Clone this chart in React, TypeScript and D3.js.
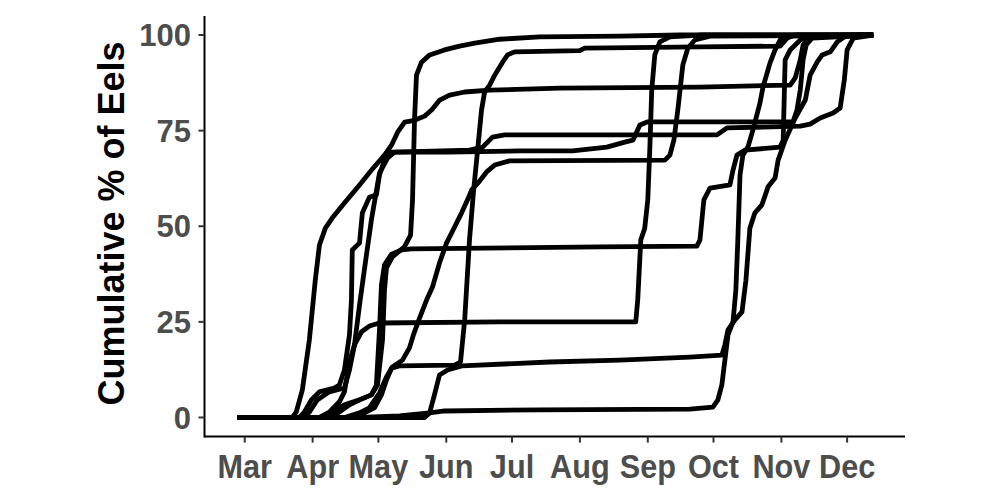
import React from "react";
import * as d3 from "d3";

// Each series: [day-of-year (2015), cumulative %]
const eelEarly = [[56.6,0],[81.7,0],[83.5,1.4],[86.3,7.2],[89.5,20.3],[92.2,35.9],[94.1,45.1],[96.8,49.5],[100.0,52.2],[105.5,56.1],[112.4,60.8],[117.9,64.7],[123.8,68.6],[127.0,71.2],[129.8,74.6],[133.0,77.2],[137.5,77.7],[142.1,78.8],[145.3,80.4],[149.0,83.0],[153.5,84.3],[160.4,85.1],[171.8,85.6],[203.8,86.1],[267.8,86.4],[309.0,86.9],[311.3,88.8],[313.6,93.5],[314.9,97.4],[318.1,99.5],[346.9,100]];
const eelMayJump = [[56.6,0],[98.6,0],[103.2,1.4],[107.8,3.3],[112.4,4.6],[117.8,5.9],[120.6,8.5],[122.9,20.3],[123.8,33.3],[124.7,39.1],[127.4,42.0],[132.9,44.6],[135.7,47.7],[136.6,56.9],[137.5,77.8],[138.4,89.5],[140.7,92.9],[144.4,94.8],[151.2,96.1],[158.1,97.1],[165.0,97.9],[176.4,98.9],[194.6,99.5],[231.2,99.7],[258.7,100],[346.9,100]];
const eel44 = [[56.6,0],[96.3,0],[100.9,2.0],[105.5,3.3],[112.4,4.6],[117.8,5.9],[120.1,8.5],[121.5,22.9],[122.4,34.6],[123.8,39.9],[127.0,42.7],[131.6,43.8],[136.1,44.1],[222.1,44.6],[266.4,44.8],[267.8,46.4],[269.6,56.9],[272.4,60.0],[281.5,60.8],[282.9,64.7],[284.7,68.6],[288.4,69.9],[304.4,70.7],[305.8,72.5],[306.7,93.5],[309.0,96.1],[313.6,98.7],[318.1,99.7],[346.9,100]];
const eel25 = [[56.6,0],[94.1,0],[98.6,1.4],[103.2,4.1],[105.5,6.7],[107.8,14.5],[110.1,19.0],[113.3,22.4],[116.9,23.9],[121.5,24.7],[176.4,25.0],[238.5,25.0],[239.4,30.7],[240.8,46.4],[242.6,49.5],[244.0,56.9],[244.9,69.9],[245.8,85.6],[247.2,94.8],[249.5,98.2],[254.1,99.5],[267.8,100],[346.9,100]];
const eel67 = [[56.6,0],[105.5,0],[112.4,1.2],[116.9,2.5],[121.5,6.4],[124.7,10.6],[127.4,13.2],[132.0,15.0],[135.2,18.2],[137.0,21.6],[139.8,26.0],[143.0,30.7],[145.7,34.1],[148.9,40.4],[152.1,45.6],[155.8,49.8],[159.0,53.5],[161.7,56.9],[163.6,59.5],[167.2,61.8],[170.4,64.2],[174.1,66.0],[180.9,67.1],[251.8,67.3],[254.1,68.6],[255.9,72.5],[257.7,80.4],[260.0,92.2],[262.3,96.6],[265.5,98.7],[272.4,99.7],[346.9,100]];
const eelJuneJump = [[56.6,0],[107.8,0],[114.6,1.2],[119.2,2.5],[122.4,5.9],[124.7,9.8],[127.0,12.9],[130.6,13.5],[155.8,13.7],[158.5,14.5],[160.4,25.5],[162.6,46.4],[164.5,59.5],[166.3,69.9],[168.1,80.4],[169.5,85.1],[171.8,86.9],[174.1,89.5],[177.7,92.9],[180.0,94.8],[183.2,95.6],[212.9,95.9],[215.2,96.6],[267.8,96.9],[304.4,97.1],[307.6,99.2],[311.3,100],[346.9,100]];
const eel14 = [[56.6,0],[142.1,0],[144.4,1.2],[146.6,5.9],[148.9,11.1],[152.6,12.4],[159.0,13.5],[199.2,14.5],[231.2,15.0],[263.2,15.8],[277.8,16.3],[279.2,19.0],[280.6,22.9],[283.8,25.5],[287.0,27.6],[288.8,35.9],[290.6,49.5],[292.9,53.5],[296.1,55.6],[298.9,60.3],[302.1,62.6],[303.5,67.3],[306.7,72.5],[311.3,78.3],[315.9,83.0],[318.1,89.5],[321.3,92.9],[323.6,94.8],[327.3,95.6],[330.5,98.2],[334.2,99.7],[346.9,100]];
const eel2 = [[56.6,0],[112.4,0],[130.6,0.4],[144.4,1.2],[151.2,1.7],[194.6,2.0],[263.2,2.2],[273.7,2.7],[276.0,4.6],[277.8,8.5],[279.2,15.0],[280.6,21.6],[282.9,25.0],[284.2,33.3],[285.1,46.4],[286.1,63.4],[287.4,68.6],[289.7,70.7],[292.0,75.2],[295.2,82.2],[296.6,86.4],[299.8,92.7],[302.1,96.1],[304.4,98.7],[309.0,99.7],[346.9,100]];
const eel70 = [[56.6,0],[84.9,0],[87.2,1.4],[90.4,4.6],[94.1,6.7],[100.9,7.7],[103.2,8.5],[105.5,12.4],[107.8,21.6],[108.7,30.7],[109.1,43.8],[112.4,45.6],[113.7,53.5],[116.9,57.6],[120.1,58.2],[121.5,63.4],[123.8,67.3],[127.0,69.4],[153.5,69.4],[185.5,69.7],[209.7,69.7],[225.3,70.7],[233.5,72.0],[237.2,72.5],[240.4,76.5],[244.0,77.3],[310.3,77.3],[312.1,80.4],[313.6,85.6],[314.9,93.5],[316.3,97.4],[319.0,99.2],[346.9,100]];
const eel74 = [[56.6,0],[87.2,0],[89.5,1.4],[93.1,4.6],[98.6,6.7],[105.5,7.7],[107.8,12.4],[110.1,19.0],[112.4,29.4],[114.6,38.6],[117.8,51.6],[121.5,63.9],[125.2,67.8],[128.4,69.4],[162.6,69.9],[168.6,70.7],[173.1,73.3],[178.6,73.9],[275.6,73.9],[280.1,75.7],[313.6,76.2],[318.1,76.7],[322.7,78.3],[328.6,79.6],[331.8,80.9],[333.7,88.2],[335.0,96.1],[337.8,99.2],[346.9,100]];

const seriesList = [eelEarly, eelMayJump, eel44, eel25, eel67, eelJuneJump, eel14, eel2, eel70, eel74];

const monthLabels = ["Mar", "Apr", "May", "Jun", "Jul", "Aug", "Sep", "Oct", "Nov", "Dec"];
const yTicks = [0, 25, 50, 75, 100];
const yTitle = "Cumulative % of Eels";

const YEAR = 2015;
const toDate = (doy: number) => new Date(new Date(YEAR, 0, 1).getTime() + (doy - 1) * 86400000);

export default function App() {
  const W = 1000, H = 500;
  const left = 205.5, right = 905, top = 15.9, bottom = 436.6;

  const all = seriesList.flat();
  const dMin = d3.min(all, d => d[0]) as number;
  const dMax = d3.max(all, d => d[0]) as number;
  const pad = (dMax - dMin) * 0.05;
  const x = d3.scaleTime().domain([toDate(dMin - pad), toDate(dMax + pad)]).range([left, right]);
  const y = d3.scaleLinear().domain([-5, 105]).range([bottom, top]);

  const line = d3.line<number[]>().x(d => x(toDate(d[0]))).y(d => y(d[1]));
  const monthDates = monthLabels.map((_, i) => new Date(YEAR, 2 + i, 1));

  const font = "'Liberation Sans', Arial, sans-serif";
  return (
    <svg width={W} height={H} style={{ position: "absolute", left: 0, top: 0, background: "#fff" }}>
      <rect width={W} height={H} fill="#fff" />
      <g fill="none" stroke="#000" strokeWidth={4.8} strokeLinejoin="round" strokeLinecap="butt">
        {seriesList.map((s, i) => <path key={i} d={line(s) || ""} />)}
      </g>
      <line x1={left - 1} x2={left - 1} y1={top} y2={bottom + 1} stroke="#000" strokeWidth={2} />
      <line x1={left - 1} x2={right} y1={bottom} y2={bottom} stroke="#000" strokeWidth={2} />
      {yTicks.map(t => (
        <g key={t}>
          <line x1={left - 7} x2={left - 1} y1={y(t)} y2={y(t)} stroke="#333" strokeWidth={2} />
          <text x={191} y={y(t)} dy="0.36em" textAnchor="end" fontFamily={font} fontWeight="bold" fontSize={31} fill="#4D4D4D">{t}</text>
        </g>
      ))}
      {monthDates.map((d, i) => (
        <g key={i}>
          <line x1={x(d)} x2={x(d)} y1={bottom} y2={bottom + 6} stroke="#333" strokeWidth={2} />
          <text transform={`translate(${x(d)},477.5) scale(0.93,1.03)`} textAnchor="middle" fontFamily={font} fontWeight="bold" fontSize={33} fill="#4D4D4D">{monthLabels[i]}</text>
        </g>
      ))}
      <text transform={`translate(123.5,${223.5}) rotate(-90)`} textAnchor="middle" fontFamily={font} fontWeight="bold" fontSize={36} fill="#000">{yTitle}</text>
    </svg>
  );
}
